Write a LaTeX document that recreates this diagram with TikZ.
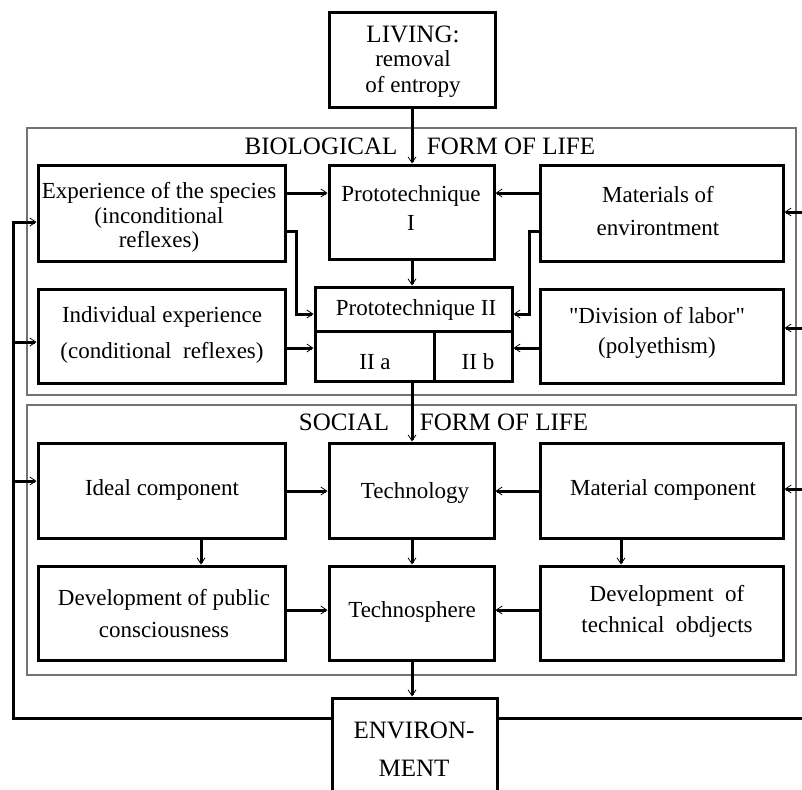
\documentclass[tikz,border=0pt]{standalone}
\usepackage{fontspec}
\setmainfont{Liberation Serif}[Ligatures=TeXOff]
\usetikzlibrary{arrows.meta,fit}
\begin{document}
\begin{tikzpicture}[x=1pt,y=-1pt,
  box/.style={draw, line width=3pt, inner sep=0pt},
  frame/.style={draw=black!55, line width=1.2pt},
  txt/.style={align=center, inner sep=0pt, font=\fontsize{23}{28}\selectfont},
  head/.style={inner sep=0pt, font=\fontsize{25}{30}\selectfont},
  wire/.style={line width=3pt, line cap=rect},
  link/.style={line width=3pt, -{Straight Barb[length=6pt,width=8pt,line width=0.8pt]}},
]
\clip (0,0) rectangle (802,789);
\fill[white] (0,0) rectangle (802,789);

% frames of the two forms of life
\draw[frame] (27,128) rectangle (796,395);
\draw[frame] (27,405) rectangle (796,675);
\node[head] (bioA) at (321,146) {BIOLOGICAL};
\node[head] (bioB) at (511,146) {FORM OF LIFE};
\node[head] (socA) at (344,422) {SOCIAL};
\node[head] (socB) at (504,422) {FORM OF LIFE};

% boxes
\node[box, fit={(329,13) (495,108)}] (liv) {};
\node[box, fit={(38,165) (285,261)}] (exp) {};
\node[box, fit={(329,165) (494,259)}] (p1) {};
\node[box, fit={(540,165) (783,261)}] (mat) {};
\node[box, fit={(38,289) (285,383)}] (ind) {};
\node[box, fit={(315,287) (512,381)}] (p2) {};
\node[box, fit={(540,289) (783,383)}] (div) {};
\node[box, fit={(38,443) (285,538)}] (ideal) {};
\node[box, fit={(329,443) (494,538)}] (tech) {};
\node[box, fit={(540,443) (783,538)}] (matc) {};
\node[box, fit={(38,566) (285,660)}] (dpub) {};
\node[box, fit={(329,566) (494,660)}] (tsph) {};
\node[box, fit={(540,566) (783,660)}] (dtec) {};
\node[box, fit={(332,698) (497,800)}] (env) {};

% subdivisions of Prototechnique II
\draw[line width=3pt] (p2.west |- 0,331) -- (p2.east |- 0,331);
\draw[line width=3pt] (434,331) -- (p2.south -| 434,0);

% texts
\node[txt] (livT) at (413,62) {{\fontsize{25}{28}\selectfont LIVING:}\\[-4pt]removal\\[-2pt]of entropy};
\node[txt] (expT) at (159,217) {Experience of the species\\[-3pt](inconditional\\[-4pt]reflexes)};
\node[txt] (p1T) at (411,208) {Prototechnique\\[1pt]I};
\node[txt] (matT) at (658,211) {Materials of\\[5pt]environtment};
\node[txt] (indT) at (162,335) {Individual experience\\[8pt](conditional\ \ reflexes)};
\node[txt] (p2T) at (416,310) {Prototechnique II};
\node[txt] (p2a) at (375,362) {II a};
\node[txt] (p2b) at (478,362) {II b};
\node[txt] (divT) at (657,333) {"Division of labor"\\[2pt](polyethism)};
\node[txt] (idealT) at (162,490) {Ideal component};
\node[txt] (techT) at (415,493) {Technology};
\node[txt] (matcT) at (663,490) {Material component};
\node[txt] (dpubT) at (164,614) {Development of public\\[4pt]consciousness};
\node[txt] (tsphT) at (412,612) {Technosphere};
\node[txt] (dtecT) at (667,611) {Development\ \ of\\[3pt]technical\ \ obdjects};
\node[txt] (envT) at (414,749) {{\fontsize{25}{28}\selectfont ENVIRON-}\\[10pt]{\fontsize{25}{28}\selectfont MENT}};

% vertical flow through the centre
\draw[link] (liv.south -| 412,0) -- (p1.north -| 412,0);
\draw[link] (p1.south -| 412,0) -- (p2.north -| 412,0);
\draw[link] (p2.south -| 412,0) -- (tech.north -| 412,0);
\draw[link] (tech.south -| 412,0) -- (tsph.north -| 412,0);
\draw[link] (tsph.south -| 412,0) -- (env.north -| 412,0);
\draw[link] (ideal.south -| 201,0) -- (dpub.north -| 201,0);
\draw[link] (matc.south -| 621,0) -- (dtec.north -| 621,0);

% side inputs
\draw[link] (exp.east |- 0,193) -- (p1.west |- 0,193);
\draw[link] (mat.west |- 0,193) -- (p1.east |- 0,193);
\draw[link] (exp.east |- 0,231) -- (296,231) -- (296,314) -- (p2.west |- 0,314);
\draw[link] (mat.west |- 0,231) -- (529,231) -- (529,314) -- (p2.east |- 0,314);
\draw[link] (ind.east |- 0,348) -- (p2.west |- 0,348);
\draw[link] (div.west |- 0,348) -- (p2.east |- 0,348);
\draw[link] (ideal.east |- 0,491) -- (tech.west |- 0,491);
\draw[link] (matc.west |- 0,491) -- (tech.east |- 0,491);
\draw[link] (dpub.east |- 0,610) -- (tsph.west |- 0,610);
\draw[link] (dtec.west |- 0,610) -- (tsph.east |- 0,610);

% feedback from the environment
\coordinate (fbL) at (13,718);
\coordinate (fbLtop) at (13,222);
\coordinate (fbR) at (812,718);
\coordinate (fbRtop) at (812,212);
\draw[wire] (env.west |- fbL) -- (fbL) -- (fbLtop);
\draw[wire] (env.east |- fbR) -- (fbR) -- (fbRtop);
\draw[link] (fbLtop) -- (exp.west |- fbLtop);
\draw[link] (13,342) -- (ind.west |- 0,342);
\draw[link] (13,481) -- (ideal.west |- 0,481);
\draw[link] (fbRtop) -- (mat.east |- fbRtop);
\draw[link] (812,328) -- (div.east |- 0,328);
\draw[link] (812,489) -- (matc.east |- 0,489);
\end{tikzpicture}
\end{document}
